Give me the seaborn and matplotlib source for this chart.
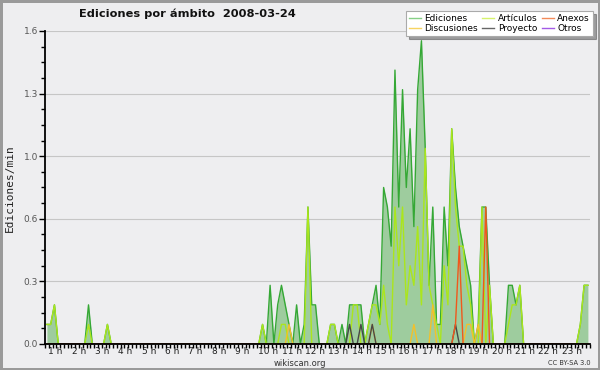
import matplotlib
matplotlib.use("Agg")
import matplotlib.pyplot as plt
import numpy as np
import pandas as pd
import seaborn as sns
from matplotlib.lines import Line2D
from matplotlib.ticker import FixedLocator, MultipleLocator

FECHA = "2008-03-24"
AMBITOS = ["Ediciones", "Artículos", "Anexos", "Discusiones", "Proyecto", "Otros"]

# ediciones por minuto en tramos de 10 minutos (cada fila = 2 horas)
ediciones = [
    0.1, 0.1, 0.2, 0, 0, 0, 0, 0, 0, 0, 0, 0.2,
    0, 0, 0, 0, 0.1, 0, 0, 0, 0, 0, 0, 0,
    0, 0, 0, 0, 0, 0, 0, 0, 0, 0, 0, 0,
    0, 0, 0, 0, 0, 0, 0, 0, 0, 0, 0, 0,
    0, 0, 0, 0, 0, 0, 0, 0, 0, 0.1, 0, 0.3,
    0, 0.2, 0.3, 0.2, 0.1, 0, 0.2, 0, 0.1, 0.7, 0.2, 0.2,
    0, 0, 0, 0.1, 0.1, 0, 0.1, 0, 0.2, 0.2, 0.2, 0.2,
    0, 0.1, 0.2, 0.3, 0.1, 0.8, 0.7, 0.5, 1.4, 0.7, 1.3, 0.8,
    1.1, 0.6, 1.3, 1.55, 1.0, 0.3, 0.7, 0.1, 0.1, 0.7, 0.4, 1.1,
    0.8, 0.6, 0.5, 0.4, 0.3, 0, 0.1, 0.7, 0.7, 0.3, 0, 0,
    0, 0, 0.3, 0.3, 0.2, 0.3, 0, 0, 0, 0, 0, 0,
    0, 0, 0, 0, 0, 0, 0, 0, 0, 0.1, 0.3, 0.3,
]
articulos = [
    0.1, 0.1, 0.2, 0, 0, 0, 0, 0, 0, 0, 0, 0.1,
    0, 0, 0, 0, 0.1, 0, 0, 0, 0, 0, 0, 0,
    0, 0, 0, 0, 0, 0, 0, 0, 0, 0, 0, 0,
    0, 0, 0, 0, 0, 0, 0, 0, 0, 0, 0, 0,
    0, 0, 0, 0, 0, 0, 0, 0, 0, 0.1, 0, 0,
    0, 0, 0.1, 0.1, 0, 0, 0, 0, 0, 0.7, 0, 0,
    0, 0, 0, 0.1, 0.1, 0, 0, 0, 0, 0.2, 0.2, 0,
    0, 0.1, 0.2, 0.2, 0.1, 0.3, 0.1, 0, 0.7, 0.4, 0.7, 0.2,
    0.4, 0.3, 0.6, 0.2, 1.0, 0.3, 0.2, 0.1, 0, 0.4, 0.2, 1.1,
    0.7, 0.5, 0.5, 0.3, 0.2, 0, 0, 0.7, 0, 0.3, 0, 0,
    0, 0, 0.1, 0.2, 0.2, 0.3, 0, 0, 0, 0, 0, 0,
    0, 0, 0, 0, 0, 0, 0, 0, 0, 0.1, 0.3, 0.3,
]
anexos = [0] * 144
anexos[108], anexos[109], anexos[116] = 0.1, 0.5, 0.7
discusiones = [0] * 144
for i, v in [(64, 0.1), (86, 0.1), (97, 0.1), (102, 0.2), (111, 0.1), (112, 0.1), (114, 0.1)]:
    discusiones[i] = v
proyecto = [0] * 144
for i in [80, 83, 86, 108]:
    proyecto[i] = 0.1
otros = [0] * 144

HOUR_LABELS = [f"{n} h" for n in range(1, 24)]
Y_TICKS = [0, 0.32, 0.64, 0.96, 1.28, 1.6]
Y_LABELS = ["0.0", "0.3", "0.6", "1.0", "1.3", "1.6"]

line_colors = {"Ediciones": "#35a835", "Artículos": "#abe61c", "Anexos": "#f0581c",
               "Discusiones": "#f2c02c", "Proyecto": "#484848", "Otros": "#9b45e0"}
legend_colors = {"Ediciones": "#86d086", "Artículos": "#d6f26c", "Anexos": "#f38a5a",
                 "Discusiones": "#f7d461", "Proyecto": "#666666", "Otros": "#a35ae6"}
BG = "#eeeef0"

hora = (np.arange(144) + 0.5) / 6
series = dict(zip(AMBITOS, [ediciones, articulos, anexos, discusiones, proyecto, otros]))
df = pd.concat([pd.DataFrame({"hora": hora, "valor": v, "ambito": k}) for k, v in series.items()])

fig = plt.figure(figsize=(6, 3.7), dpi=100, facecolor=BG)
fig.patch.set_edgecolor("#9a9a9a")
fig.patch.set_linewidth(2.5)
ax = fig.add_axes([0.075, 0.0703, 0.908, 0.846], facecolor=BG)

ax.fill_between(hora, ediciones, color="#9ecc9e", lw=0, zorder=1)
draw_order = ["Ediciones", "Otros", "Artículos", "Discusiones", "Proyecto", "Anexos"]
sns.lineplot(data=df, x="hora", y="valor", hue="ambito", hue_order=draw_order,
             palette=line_colors, estimator=None, errorbar=None, linewidth=1.0,
             legend=False, ax=ax, zorder=2)

ax.set_xlim(0, 24)
ax.set_ylim(0, 1.6)
ax.set_xlabel("")
ax.set_ylabel("")
for s in ["top", "right"]:
    ax.spines[s].set_visible(False)
for s in ["left", "bottom"]:
    ax.spines[s].set_linewidth(1.3)
    ax.spines[s].set_zorder(5)

ax.yaxis.set_major_locator(FixedLocator(Y_TICKS))
ax.set_yticklabels(Y_LABELS)
ax.yaxis.set_minor_locator(MultipleLocator(0.08))
ax.tick_params(axis="y", which="major", length=4, width=1, labelsize=6.5, labelcolor="#555555", pad=1)
ax.tick_params(axis="y", which="minor", length=3, width=1)
ax.grid(axis="y", color="#c6c6c6", lw=0.8, zorder=0)
ax.set_axisbelow(True)

label_pos = [0.146 + 1.028 * i for i in range(len(HOUR_LABELS))]
ax.xaxis.set_major_locator(FixedLocator(label_pos))
ax.set_xticklabels(HOUR_LABELS, ha="left")
ax.xaxis.set_minor_locator(MultipleLocator(1 / 6))
ax.tick_params(axis="x", which="major", length=0, labelsize=6.5, labelcolor="#222222", pad=2.5)
ax.tick_params(axis="x", which="minor", length=3, width=1)

fig.text(187 / 600, 1 - 14 / 370, f"Ediciones por ámbito  {FECHA}", ha="center", va="center",
         fontsize=8.2, fontweight="bold", color="#111111")
fig.text(0.017, 0.492, "Ediciones/min", rotation=90, ha="center", va="center",
         family="DejaVu Sans Mono", fontsize=8, color="#222222")
fig.text(0.5, 1 - 363 / 370, "wikiscan.org", ha="center", va="center", fontsize=6, color="#333333")
fig.text(569 / 600, 1 - 363 / 370, "CC BY-SA 3.0", ha="center", va="center", fontsize=4.8, color="#333333")

handles = [Line2D([], [], color=legend_colors[k], lw=1) for k in AMBITOS]
order = [0, 3, 1, 4, 2, 5]
leg = fig.legend([handles[i] for i in order], [AMBITOS[i] for i in order], ncol=3,
                 loc="upper right", bbox_to_anchor=(593 / 600, 1 - 11 / 370), fontsize=6.5,
                 frameon=True, fancybox=False, shadow=True, handlelength=1.3,
                 handletextpad=0.4, columnspacing=0.5, labelspacing=0.1, borderpad=0.35,
                 borderaxespad=0)
leg.get_frame().set_edgecolor("#aaaaaa")
leg.get_frame().set_linewidth(0.8)

fig.savefig("out.png", dpi=100, facecolor=BG, edgecolor=fig.patch.get_edgecolor())
